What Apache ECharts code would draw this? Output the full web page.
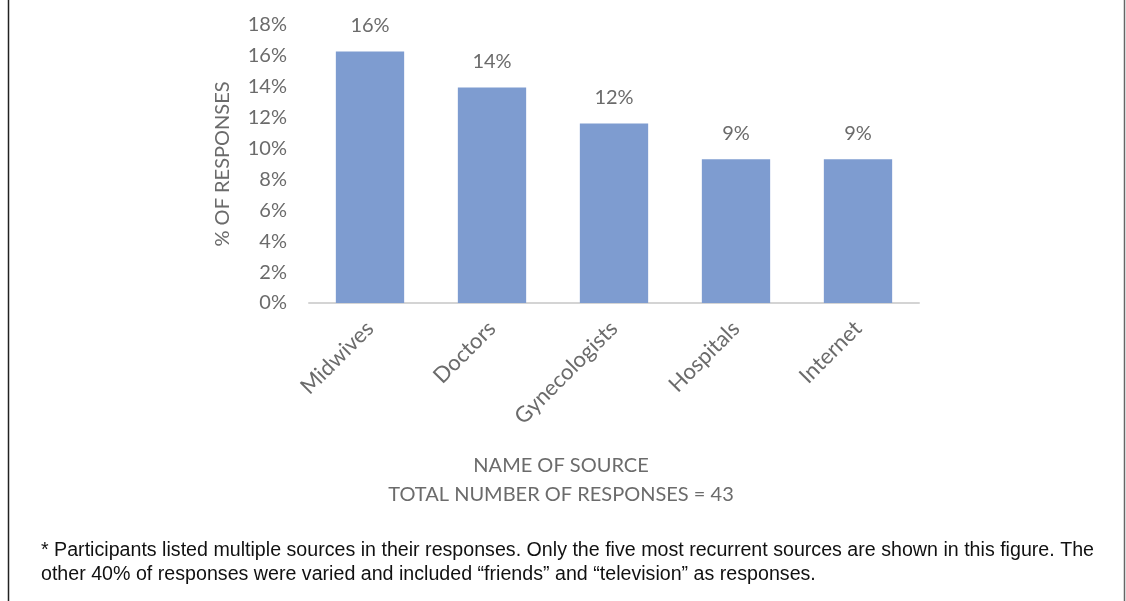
<!DOCTYPE html>
<html>
<head>
<meta charset="utf-8">
<script src="https://cdn.jsdelivr.net/npm/echarts@6/dist/echarts.min.js"></script>
<style>
  html, body { margin: 0; padding: 0; background: #fff; }
  #chart { width: 1126px; height: 601px; }
</style>
</head>
<body>
<div id="chart"></div>
<script>
// Sources named by participants and how many responses named each
const sources = ['Midwives', 'Doctors', 'Gynecologists', 'Hospitals', 'Internet'];
const responseCounts = [7, 6, 5, 4, 4];
const totalResponses = 43;
const yTicks = [0, 2, 4, 6, 8, 10, 12, 14, 16, 18];

const xAxisTitle = 'NAME OF SOURCE';
const totalLine = 'TOTAL NUMBER OF RESPONSES = ' + totalResponses;
const footnote1 = '* Participants listed multiple sources in their responses. Only the five most recurrent sources are shown in this figure. The';
const footnote2 = 'other 40% of responses were varied and included \u201Cfriends\u201D and \u201Ctelevision\u201D as responses.';

const percents = responseCounts.map(c => c / totalResponses * 100);

const FONT = 'Lato';
const GREY = '#6b6b6b';
const NOTE_FONT = '20px "Liberation Sans"';

// The footnote is set in a condensed face: squeeze the first line to its column width
const measure = document.createElement('canvas').getContext('2d');
measure.font = NOTE_FONT;
const noteScale = 1053 / measure.measureText(footnote1).width;

const chart = echarts.init(document.getElementById('chart'), null, { renderer: 'canvas' });

chart.setOption({
  animation: false,
  backgroundColor: '#ffffff',
  grid: { left: 309, right: 207, top: 25, bottom: 298, containLabel: false },
  xAxis: {
    type: 'category',
    data: sources,
    axisLine: { lineStyle: { color: '#d4d4d4', width: 2 } },
    axisTick: { show: false },
    axisLabel: {
      rotate: 45, margin: 22, color: GREY,
      fontFamily: FONT, fontSize: 22
    }
  },
  yAxis: {
    type: 'value',
    min: yTicks[0],
    max: yTicks[yTicks.length - 1],
    interval: yTicks[1] - yTicks[0],
    name: '% OF RESPONSES',
    nameLocation: 'middle',
    nameGap: 76,
    nameTextStyle: { color: GREY, fontFamily: FONT, fontSize: 20 },
    axisLine: { show: false },
    axisTick: { show: false },
    splitLine: { show: false },
    axisLabel: {
      margin: 22, color: GREY, fontFamily: FONT, fontSize: 20,
      formatter: v => v + '%'
    }
  },
  series: [{
    type: 'bar',
    data: percents,
    barCategoryGap: '44%',
    itemStyle: { color: '#7E9CD0' },
    label: {
      show: true, position: 'top', distance: 16,
      color: GREY, fontFamily: FONT, fontSize: 20,
      formatter: p => Math.round(p.value) + '%'
    }
  }],
  graphic: [
    { type: 'line', shape: { x1: 8.5, y1: 0, x2: 8.5, y2: 601 }, style: { stroke: '#222', lineWidth: 1.5 } },
    { type: 'line', shape: { x1: 1124.5, y1: 0, x2: 1124.5, y2: 601 }, style: { stroke: '#666', lineWidth: 1.5 } },
    { type: 'text', x: 561, y: 466, style: { text: xAxisTitle, align: 'center', verticalAlign: 'middle', fill: GREY, font: '20px ' + FONT } },
    { type: 'text', x: 561, y: 495, style: { text: totalLine, align: 'center', verticalAlign: 'middle', fill: GREY, font: '20px ' + FONT } },
    { type: 'text', x: 41, y: 550, scaleX: noteScale, style: { text: footnote1, align: 'left', verticalAlign: 'middle', fill: '#111', font: NOTE_FONT } },
    { type: 'text', x: 41, y: 574, scaleX: noteScale, style: { text: footnote2, align: 'left', verticalAlign: 'middle', fill: '#111', font: NOTE_FONT } }
  ]
});
</script>
</body>
</html>
